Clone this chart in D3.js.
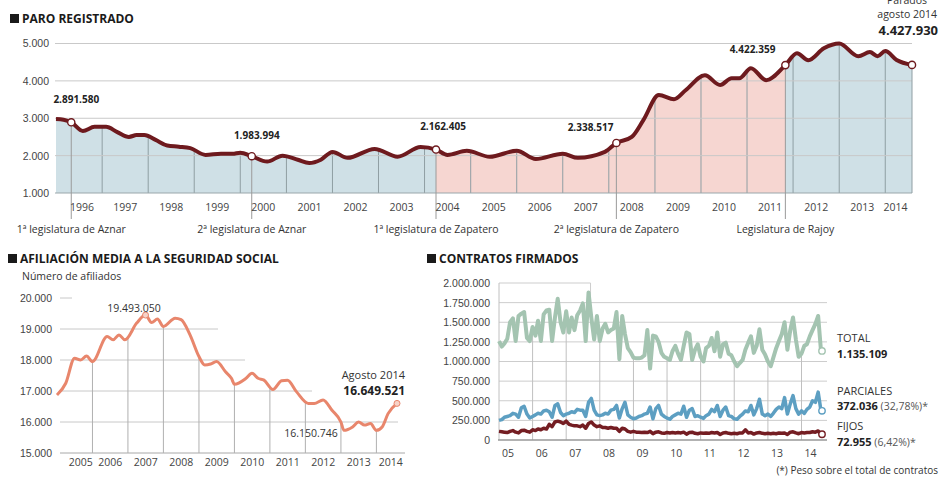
<!DOCTYPE html>
<html lang="es">
<head>
<meta charset="utf-8">
<title>Paro registrado, afiliación y contratos</title>
<script src="https://cdn.jsdelivr.net/npm/d3@7"></script>
<style>
  body { margin: 0; background: #fff; }
  svg { font-family: "Open Sans", sans-serif; }
  .title { font-weight: 700; font-size: 12px; fill: #1a1a1a; }
  .ylab { font-size: 10.5px; fill: #444; }
  .xlab { font-size: 10.5px; fill: #444; }
  .leg { font-size: 10.5px; fill: #333; }
  .val { font-size: 10px; font-weight: 700; fill: #222; }
  .note { font-size: 10.5px; fill: #333; }
</style>
</head>
<body>
<svg id="chart" width="940" height="477"></svg>
<script>
// ---- PARO REGISTRADO (miles) ----
const paroMonths = ["1996-01","1996-03","1996-05","1996-08","1996-11","1997-02","1997-05","1997-08","1997-10","1997-12",
  "1998-03","1998-06","1998-09","1998-12","1999-04","1999-08","1999-11","2000-01","2000-04","2000-08","2000-12",
  "2001-04","2001-07","2001-10","2002-01","2002-05","2002-12","2003-06","2003-12","2004-04","2004-07","2004-12",
  "2005-06","2006-01","2006-06","2007-01","2007-05","2007-12","2008-03","2008-07","2008-10","2009-02","2009-06",
  "2009-09","2010-02","2010-06","2010-09","2010-11","2011-02","2011-06","2011-11","2012-02","2012-05","2012-09",
  "2013-01","2013-06","2013-09","2013-11","2014-01","2014-04","2014-08"];
const paroValues = [2980,2960,2891.58,2660,2770,2770,2630,2500,2550,2550,
  2420,2270,2240,2200,2020,2050,2050,2080,1983.994,1840,2000,
  1890,1800,1890,2100,1940,2180,1970,2230,2162.405,2020,2130,
  1970,2130,1910,2050,1940,2100,2338.517,2500,2950,3620,3510,
  3750,4150,3890,4070,4070,4340,4020,4422.359,4740,4550,4870,
  5000,4660,4770,4660,4800,4560,4427.93];
const paroTicks = [1000, 2000, 3000, 4000, 5000];
const paroYears = d3.range(1996, 2015);

const legisMonths = ["1996-05","2000-04","2004-04","2008-03","2011-11"];
const legisNames = ["1ª legislatura de Aznar","2ª legislatura de Aznar","1ª legislatura de Zapatero",
  "2ª legislatura de Zapatero","Legislatura de Rajoy"];
const legisParty = ["PP","PP","PSOE","PSOE","PP"];
const legisLabels = ["2.891.580","1.983.994","2.162.405","2.338.517","4.422.359"];

// ---- AFILIACIÓN (miles) ----
const afilMonths = ["2005-01","2005-04","2005-07","2005-09","2005-11","2006-01","2006-06","2006-08","2006-10","2006-12",
  "2007-04","2007-07","2007-09","2007-11","2008-01","2008-05","2008-07","2008-10","2009-01","2009-03","2009-05",
  "2009-07","2009-10","2009-12","2010-01","2010-05","2010-07","2010-09","2010-11","2011-02","2011-05","2011-07",
  "2011-10","2012-02","2012-04","2012-07","2012-10","2013-01","2013-02","2013-05","2013-07","2013-09","2013-11",
  "2014-01","2014-03","2014-05","2014-08"];
const afilValues = [16870,17250,18060,18000,18130,17950,18760,18650,18810,18650,
  19190,19450,19210,19320,19080,19350,19300,18810,18110,17840,17870,
  17950,17620,17410,17220,17410,17570,17410,17350,17050,17330,17350,
  16980,16600,16600,16710,16380,16000,15730,15840,16000,15900,15950,
  15730,15840,16270,16600];
const afilTicks = [15000, 16000, 17000, 18000, 19000, 20000];
const afilYears = d3.range(2005, 2015);

// ---- CONTRATOS (miles), ene 2005 - ago 2014 ----
const contratosTotal = [
  1260,1190,1230,1290,1500,1550,1260,1580,1610,1630,1300,1260,
  1440,1330,1520,1260,1600,1650,1660,1260,1560,1800,1500,1370,
  1640,1370,1560,1400,1590,1650,1740,1260,1880,1560,1280,1580,
  1260,1420,1480,1370,1400,1420,1630,1030,1580,1350,1170,1120,
  1050,1040,1040,1050,1080,1400,910,1330,1320,1250,1110,1060,
  1040,1020,1130,1200,1100,1020,1200,1370,1350,1020,1150,1220,
  1060,1000,1170,1200,1300,1130,1370,1060,1220,1240,1100,1080,
  1000,940,980,1020,1150,1240,1320,1110,1200,1410,1150,1090,
  1000,940,1050,1170,1260,1350,1500,1150,1400,1560,1280,1060,
  1100,1200,1220,1320,1400,1480,1580,1135.109];
const contratosParciales = [
  250,260,290,300,310,340,330,290,410,430,330,280,
  300,320,340,330,370,380,360,290,440,460,350,310,
  330,340,360,350,390,380,380,300,480,530,380,320,
  310,320,340,330,380,390,440,280,400,480,320,290,
  270,280,300,310,330,340,420,270,400,440,330,300,
  280,265,300,320,340,330,430,290,380,400,300,310,
  290,275,310,330,390,360,440,300,380,420,310,300,
  270,265,300,330,370,360,440,320,400,520,330,310,
  330,300,340,390,420,400,540,330,460,565,400,330,
  370,340,390,420,500,480,610,372.036];
const contratosFijos = [
  110,105,100,95,110,120,100,90,120,125,110,100,
  130,120,140,130,150,140,200,170,230,240,230,210,
  240,200,190,180,180,170,190,150,210,230,190,170,
  180,160,160,150,160,150,150,110,150,140,110,100,
  110,100,100,95,100,95,110,80,100,105,90,85,
  95,90,95,90,95,90,100,75,95,100,85,80,
  90,85,90,85,95,90,95,70,90,95,85,80,
  85,80,90,90,130,90,95,75,90,95,85,80,
  85,80,85,80,90,85,90,70,100,105,90,80,
  95,90,95,95,105,100,115,72.955];
const contratosTicks = [0, 250, 500, 750, 1000, 1250, 1500, 1750, 2000];
const contratosYears = d3.range(2005, 2015);

// ---------------------------------------------------------------
const parseMonth = d3.timeParse("%Y-%m");
const es = d3.formatLocale({decimal: ",", thousands: ".", grouping: [3], currency: ["", "€"]});
const fmt = es.format(",d");

const svg = d3.select("#chart");
const defs = svg.append("defs");

function title(x, y, text) {
  svg.append("rect").attr("x", x).attr("y", y - 9).attr("width", 9).attr("height", 9).attr("fill", "#1a1a1a");
  svg.append("text").attr("class", "title").attr("x", x + 12).attr("y", y).text(text);
}

// =================== PARO REGISTRADO ===================
const paro = paroMonths.map((m, i) => ({date: parseMonth(m), value: paroValues[i]}));
const pStart = paro[0].date, pEnd = paro[paro.length - 1].date;
const xP = d3.scaleTime().domain([pStart, pEnd]).range([56, 912]);
const yP = d3.scaleLinear().domain([1000, 5000]).range([193, 43.5]);

title(10, 23, "PARO REGISTRADO");

const areaP = d3.area().curve(d3.curveMonotoneX)
  .x(d => xP(d.date)).y0(yP(1000)).y1(d => yP(d.value));
const lineP = d3.line().curve(d3.curveMonotoneX)
  .x(d => xP(d.date)).y(d => yP(d.value));

const partyFill = {PP: "#cfe0e6", PSOE: "#f6d6d1"};
legisMonths.forEach((m, i) => {
  const from = i === 0 ? pStart : parseMonth(m);
  const to = i < legisMonths.length - 1 ? parseMonth(legisMonths[i + 1]) : pEnd;
  const id = "clipP" + i;
  defs.append("clipPath").attr("id", id).append("rect")
    .attr("x", xP(from)).attr("y", 0).attr("width", xP(to) - xP(from)).attr("height", 200);
  svg.append("path").attr("d", areaP(paro)).attr("fill", partyFill[legisParty[i]])
    .attr("clip-path", `url(#${id})`);
});

defs.append("clipPath").attr("id", "areaP").append("path").attr("d", areaP(paro));
svg.append("g").attr("clip-path", "url(#areaP)")
  .selectAll("line").data(paroYears.slice(1)).join("line")
  .attr("x1", d => xP(new Date(d, 0, 1))).attr("x2", d => xP(new Date(d, 0, 1)))
  .attr("y1", yP(1000)).attr("y2", 40)
  .attr("stroke", "#8f9ea3").attr("stroke-width", 1);

svg.append("g").selectAll("line").data(paroTicks).join("line")
  .attr("x1", 55).attr("x2", xP(pEnd))
  .attr("y1", d => yP(d)).attr("y2", d => yP(d))
  .attr("stroke", d => d === 1000 ? "#9aa7ab" : "#c9c9c9").attr("stroke-width", 1);

svg.append("line").attr("x1", xP(pEnd)).attr("x2", xP(pEnd))
  .attr("y1", yP(paro[paro.length - 1].value)).attr("y2", yP(1000))
  .attr("stroke", "#8f9ea3");

svg.append("g").attr("transform", "translate(56,0)")
  .call(d3.axisLeft(yP).tickValues(paroTicks).tickFormat(fmt).tickSize(0).tickPadding(7))
  .call(g => g.select(".domain").remove())
  .call(g => g.selectAll("text").attr("class", "ylab").attr("font-family", null).attr("font-size", null).attr("fill", null));

// legislature lines
const legis = legisMonths.map(m => paro.find(d => d.date.getTime() === parseMonth(m).getTime()));
svg.append("g").selectAll("line").data(legis).join("line")
  .attr("x1", d => xP(d.date)).attr("x2", d => xP(d.date))
  .attr("y1", d => yP(d.value)).attr("y2", 219)
  .attr("stroke", "#9a9a9a").attr("stroke-width", 1);

svg.append("path").attr("d", lineP(paro)).attr("fill", "none")
  .attr("stroke", "#6e1a1e").attr("stroke-width", 4).attr("stroke-linejoin", "round");

svg.append("g").selectAll("circle").data(legis.concat([paro[paro.length - 1]])).join("circle")
  .attr("cx", d => xP(d.date)).attr("cy", d => yP(d.value)).attr("r", 3.6)
  .attr("fill", "#fff").attr("stroke", "#6e1a1e").attr("stroke-width", 1.4);

// year labels
svg.append("g").selectAll("text").data(paroYears).join("text")
  .attr("class", "xlab").attr("text-anchor", "middle").attr("y", 211)
  .attr("x", d => {
    const a = xP(d3.max([new Date(d, 0, 1), pStart]));
    const b = xP(d3.min([new Date(d + 1, 0, 1), pEnd]));
    return (a + b) / 2 + (d === 1996 ? 3 : 0) - (d === 2014 ? 3 : 0);
  })
  .text(d => d);

svg.append("g").selectAll("text").data(legis).join("text")
  .attr("class", "leg").attr("text-anchor", "middle").attr("y", 233)
  .attr("x", d => xP(d.date)).text((d, i) => legisNames[i]);

const labelOffsets = [[5, -19, "middle"], [5, -17, "middle"], [7, -20, "middle"], [-3, -12, "end"], [-10, -12, "end"]];
svg.append("g").selectAll("text").data(legis).join("text")
  .attr("class", "val")
  .attr("x", (d, i) => xP(d.date) + labelOffsets[i][0])
  .attr("y", (d, i) => yP(d.value) + labelOffsets[i][1])
  .attr("text-anchor", (d, i) => labelOffsets[i][2])
  .text((d, i) => legisLabels[i]);

svg.append("text").attr("class", "note").attr("x", 907).attr("y", 4).attr("text-anchor", "middle").text("Parados");
svg.append("text").attr("class", "note").attr("x", 937).attr("y", 18).attr("text-anchor", "end").text("agosto 2014");
svg.append("text").attr("class", "val").style("font-size", "13px").attr("x", 938).attr("y", 35)
  .attr("text-anchor", "end").text(fmt(Math.round(paro[paro.length - 1].value * 1000)));

// =================== AFILIACIÓN ===================
const afil = afilMonths.map((m, i) => ({date: parseMonth(m), value: afilValues[i]}));
const aStart = afil[0].date, aEnd = afil[afil.length - 1].date;
const xA = d3.scaleTime().domain([aStart, aEnd]).range([57, 397]);
const yA = d3.scaleLinear().domain([15000, 20000]).range([453, 298]);

title(8, 263, "AFILIACIÓN MEDIA A LA SEGURIDAD SOCIAL");
svg.append("text").attr("class", "note").attr("x", 22).attr("y", 280).text("Número de afiliados");

const areaA = d3.area().curve(d3.curveMonotoneX).x(d => xA(d.date)).y0(yA(15000)).y1(d => yA(d.value));
const lineA = d3.line().curve(d3.curveMonotoneX).x(d => xA(d.date)).y(d => yA(d.value));

const afilGridEnd = {15000: 405, 16000: 398, 17000: 312, 18000: 245, 19000: 218, 20000: 72};
svg.append("g").selectAll("line").data(afilTicks).join("line")
  .attr("x1", 60).attr("x2", d => afilGridEnd[d])
  .attr("y1", d => yA(d)).attr("y2", d => yA(d))
  .attr("stroke", d => d === 15000 ? "#a8a8a8" : "#c8c8c8");

defs.append("clipPath").attr("id", "areaA").append("path").attr("d", areaA(afil));
svg.append("g").attr("clip-path", "url(#areaA)")
  .selectAll("line").data(afilYears.slice(1)).join("line")
  .attr("x1", d => xA(new Date(d, 0, 1))).attr("x2", d => xA(new Date(d, 0, 1)))
  .attr("y1", yA(15000)).attr("y2", 290)
  .attr("stroke", "#b0b0b0");

svg.append("g").attr("transform", "translate(57,0)")
  .call(d3.axisLeft(yA).tickValues(afilTicks).tickFormat(fmt).tickSize(0).tickPadding(5))
  .call(g => g.select(".domain").remove())
  .call(g => g.selectAll("text").attr("class", "ylab").attr("font-family", null).attr("font-size", null).attr("fill", null));

svg.append("path").attr("d", lineA(afil)).attr("fill", "none")
  .attr("stroke", "#e8866c").attr("stroke-width", 3).attr("stroke-linejoin", "round");

const afilPeak = afil.reduce((a, b) => b.value > a.value ? b : a);
svg.append("g").selectAll("circle").data([afilPeak, afil[afil.length - 1]]).join("circle")
  .attr("cx", d => xA(d.date)).attr("cy", d => yA(d.value)).attr("r", 3)
  .attr("fill", "#f7d3c8").attr("stroke", "#e8866c").attr("stroke-width", 1);

svg.append("g").selectAll("text").data(afilYears).join("text")
  .attr("class", "xlab").attr("text-anchor", "middle").attr("y", 466)
  .attr("x", d => {
    const a = xA(d3.max([new Date(d, 0, 1), aStart]));
    const b = xA(d3.min([new Date(d + 1, 0, 1), aEnd]));
    return (a + b) / 2 + (d === 2005 ? 6 : 0) + (d === 2014 ? 4 : 0);
  })
  .text(d => d);

svg.append("text").attr("class", "note").attr("x", 134).attr("y", 312).attr("text-anchor", "middle").text("19.493.050");
svg.append("text").attr("class", "note").attr("x", 311).attr("y", 437).attr("text-anchor", "middle").text("16.150.746");
svg.append("text").attr("class", "note").style("font-size", "11px").attr("x", 405).attr("y", 379).attr("text-anchor", "end").text("Agosto 2014");
svg.append("text").attr("class", "val").style("font-size", "12px").attr("x", 405).attr("y", 395)
  .attr("text-anchor", "end").text("16.649.521");

// =================== CONTRATOS ===================
const cMonths = d3.timeMonth.range(new Date(2005, 0, 1), new Date(2014, 8, 1));
const series = [
  {name: "total", values: contratosTotal, color: "#a4c4b1", width: 4},
  {name: "parciales", values: contratosParciales, color: "#5d9fc2", width: 3.5},
  {name: "fijos", values: contratosFijos, color: "#741d22", width: 3.5}
];
const xC = d3.scaleTime().domain([cMonths[0], cMonths[cMonths.length - 1]]).range([499, 821]);
const yC = d3.scaleLinear().domain([0, 2000]).range([440, 283]);

title(427, 263, "CONTRATOS FIRMADOS");

const lineC = d3.line().x((d, i) => xC(cMonths[i])).y(d => yC(d));
const areaC = d3.area().x((d, i) => xC(cMonths[i])).y0(yC(0)).y1(d => yC(d));

// horizontal grid (top line stops above the 2007 peak)
const peakIdx = d3.maxIndex(contratosTotal);
svg.append("g").selectAll("line").data(contratosTicks.slice(1, -1)).join("line")
  .attr("x1", 499).attr("x2", 827).attr("y1", d => yC(d)).attr("y2", d => yC(d))
  .attr("stroke", "#cdcdcd");
svg.append("path")
  .attr("d", `M499,${yC(2000)}H${xC(cMonths[peakIdx]) + 2}V${yC(1750)}`)
  .attr("fill", "none").attr("stroke", "#cdcdcd");

defs.append("clipPath").attr("id", "areaC").append("path").attr("d", areaC(contratosTotal));
svg.append("g").attr("clip-path", "url(#areaC)")
  .selectAll("line").data(contratosYears.slice(1)).join("line")
  .attr("x1", d => xC(new Date(d, 0, 1))).attr("x2", d => xC(new Date(d, 0, 1)))
  .attr("y1", yC(0)).attr("y2", 280)
  .attr("stroke", "#c0c0c0");

svg.append("line").attr("x1", 499).attr("x2", 499).attr("y1", yC(2000)).attr("y2", yC(0)).attr("stroke", "#c0c0c0");
svg.append("line").attr("x1", 498).attr("x2", 827).attr("y1", yC(0)).attr("y2", yC(0))
  .attr("stroke", "#999").attr("stroke-width", 1.5);

svg.append("g").attr("transform", "translate(499,0)")
  .call(d3.axisLeft(yC).tickValues(contratosTicks).tickFormat(d => fmt(d * 1000)).tickSize(0).tickPadding(9))
  .call(g => g.select(".domain").remove())
  .call(g => g.selectAll("text").attr("class", "ylab").attr("font-family", null).attr("font-size", null).attr("fill", null));

series.forEach(s => {
  svg.append("path").attr("d", lineC(s.values)).attr("fill", "none")
    .attr("stroke", s.color).attr("stroke-width", s.width).attr("stroke-linejoin", "round");
});
svg.append("g").selectAll("circle").data(series).join("circle")
  .attr("cx", xC(cMonths[cMonths.length - 1]) + 1)
  .attr("cy", d => yC(d.values[d.values.length - 1]))
  .attr("r", 3.2).attr("fill", "#fff").attr("stroke", d => d.color).attr("stroke-width", 1.4);

svg.append("g").selectAll("text").data(contratosYears).join("text")
  .attr("class", "xlab").attr("text-anchor", "middle").attr("y", 457)
  .attr("x", d => xC(new Date(d, 3, 10)))
  .text(d => String(d).slice(2));

const total = contratosTotal[contratosTotal.length - 1];
const legend = [
  {y: 342, dy: 16, name: "TOTAL", value: total, pct: null},
  {y: 395, dy: 15, name: "PARCIALES", value: contratosParciales[contratosParciales.length - 1], pct: "(32,78%)*"},
  {y: 430, dy: 16, name: "FIJOS", value: contratosFijos[contratosFijos.length - 1], pct: "(6,42%)*"}
];
legend.forEach(l => {
  svg.append("text").attr("class", "note").style("font-size", "11px").attr("x", 837).attr("y", l.y).text(l.name);
  const t = svg.append("text").attr("x", 837).attr("y", l.y + l.dy);
  t.append("tspan").attr("class", "val").style("font-size", "11px").text(fmt(Math.round(l.value * 1000)));
  if (l.pct) t.append("tspan").attr("class", "note").style("fill", "#555").text(" " + l.pct);
});
svg.append("text").attr("class", "note").style("font-size", "10px").attr("x", 938).attr("y", 474)
  .attr("text-anchor", "end").text("(*) Peso sobre el total de contratos");
</script>
</body>
</html>
